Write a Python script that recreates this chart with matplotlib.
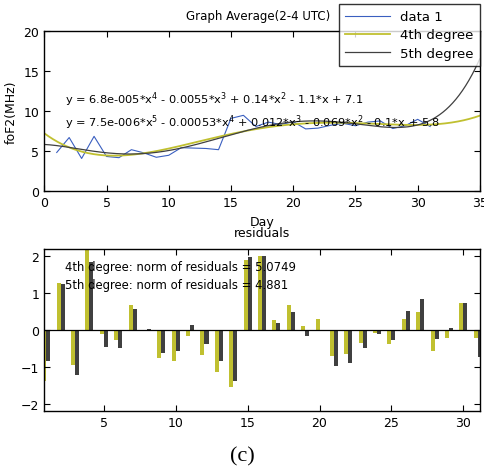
import numpy as np
import matplotlib
matplotlib.use("Agg")
import matplotlib.pyplot as plt

# daily average foF2 (MHz)
days = np.arange(1, 32)
fof2 = [4.85, 6.72, 4.10, 6.87, 4.35, 4.20, 5.20, 4.80, 4.25, 4.50,
        5.45, 5.40, 5.35, 5.20, 9.12, 9.50, 8.10, 8.65, 8.35, 8.70,
        7.80, 7.90, 8.25, 8.50, 8.20, 8.65, 8.80, 7.85, 8.20, 9.00, 8.10]

# residual bars
res4 = [-1.37, 1.28, -0.95, 2.30, -0.12, -0.28, 0.68, 0.00, -0.77, -0.83,
        -0.16, -0.67, -1.13, -1.55, 1.90, 2.01, 0.28, 0.68, 0.11, 0.31,
        -0.71, -0.65, -0.35, -0.07, -0.37, 0.31, 0.49, -0.58, -0.22, 0.74, -0.22]
res5 = [-0.85, 1.26, -1.22, 1.85, -0.46, -0.49, 0.58, 0.03, -0.62, -0.58,
        0.14, -0.37, -0.85, -1.37, 1.99, 2.00, 0.19, 0.49, -0.16, -0.01,
        -0.98, -0.89, -0.49, -0.10, -0.28, 0.52, 0.83, -0.25, 0.06, 0.74, -0.74]

eq4 = "y = 6.8e-005*x$^4$ - 0.0055*x$^3$ + 0.14*x$^2$ - 1.1*x + 7.1"
eq5 = "y = 7.5e-006*x$^5$ - 0.00053*x$^4$ + 0.012*x$^3$ - 0.069*x$^2$ - 0.1*x + 5.8"
norm4 = "4th degree: norm of residuals = 5.0749"
norm5 = "5th degree: norm of residuals = 4.881"

blue = "#3a5fc0"
olive = "#c0c030"
dark = "#404040"

plt.rcParams["font.family"] = "DejaVu Sans"
plt.rcParams["mathtext.default"] = "regular"
fig = plt.figure(figsize=(4.84, 4.77), dpi=100)

# top panel: data and polynomial fits
ax1 = fig.add_axes([0.0915, 0.597, 0.900, 0.335])
xx = np.linspace(0, 35, 400)
p4 = np.polyfit(days, fof2, 4)
p5 = np.polyfit(days, fof2, 5)
ax1.plot(days, fof2, color=blue, lw=0.8, label="data 1")
ax1.plot(xx, np.polyval(p4, xx), color=olive, lw=1.3, label="4th degree")
ax1.plot(xx, np.polyval(p5, xx), color=dark, lw=0.9, label="5th degree")
ax1.set_xlim(0, 35)
ax1.set_ylim(0, 20)
ax1.set_xticks(range(0, 36, 5))
ax1.set_yticks(range(0, 21, 5))
ax1.set_title("Graph Average(2-4 UTC)", fontsize=8.5, pad=9, x=0.49)
ax1.set_xlabel("Day", fontsize=9, labelpad=4)
ax1.set_ylabel("foF2(MHz)", fontsize=9)
ax1.text(0.047, 0.577, eq4, transform=ax1.transAxes, fontsize=8.2, va="center")
ax1.text(0.047, 0.433, eq5, transform=ax1.transAxes, fontsize=8.2, va="center")
leg = ax1.legend(loc="upper right", bbox_to_anchor=(1.0, 1.17), borderaxespad=0,
                 fontsize=9.5, frameon=True, fancybox=False, edgecolor="black",
                 handlelength=3.4, borderpad=0.45, labelspacing=0.4)
leg.get_frame().set_linewidth(1.0)

# bottom panel: residual bars
ax2 = fig.add_axes([0.0915, 0.136, 0.900, 0.340])
w = 0.28
ax2.bar(days - w / 2, res4, width=w, color=olive)
ax2.bar(days + w / 2, res5, width=w, color=dark)
ax2.axhline(0, color="black", lw=0.9)
ax2.set_xlim(0.86, 31.15)
ax2.set_ylim(-2.2, 2.2)
ax2.set_xticks(range(5, 31, 5))
ax2.set_yticks([-2, -1, 0, 1, 2])
ax2.set_title("residuals", fontsize=9, pad=9)
ax2.text(0.047, 0.87, norm4, transform=ax2.transAxes, fontsize=8.4)
ax2.text(0.047, 0.76, norm5, transform=ax2.transAxes, fontsize=8.4)

for ax in (ax1, ax2):
    ax.tick_params(direction="in", top=True, right=True, labelsize=9, length=4)
    for s in ax.spines.values():
        s.set_linewidth(1.0)

fig.text(0.5, 0.042, "(c)", ha="center", va="center", fontsize=16,
         family="Liberation Serif")

fig.savefig("out.png", dpi=100)
